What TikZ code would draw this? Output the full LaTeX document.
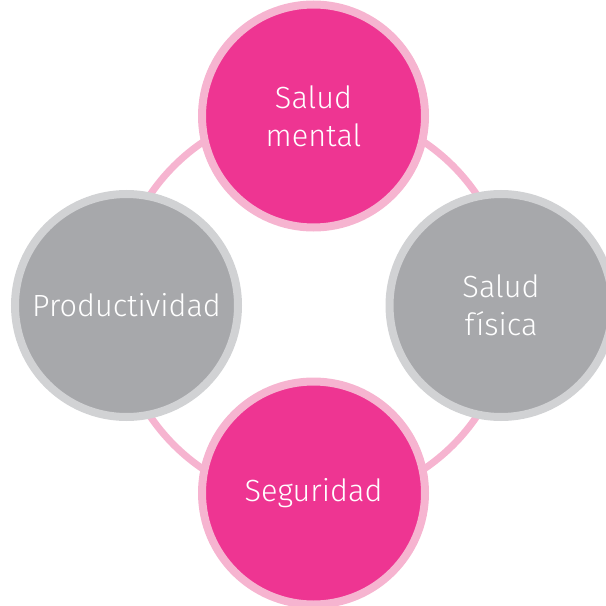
\documentclass[tikz,border=0pt]{standalone}
\usepackage{fontspec}
\setmainfont{Fira Sans Light}
\usepackage{tikz}
\usepackage{xcolor}
\usetikzlibrary{positioning}

\definecolor{rosa}{HTML}{EE3592}
\definecolor{rosaclaro}{HTML}{F6B4D0}
\definecolor{gris}{HTML}{A7A8AB}
\definecolor{grisclaro}{HTML}{D1D2D4}

\begin{document}
\begin{tikzpicture}[
  x=0.75pt, y=-0.75pt,
  font=\fontsize{23pt}{28.5pt}\selectfont,
  core/.style={
    circle, align=center, inner sep=0pt, minimum size=167.25pt,
    line width=6pt, draw=rosaclaro, fill=rosa, text=white
  },
  aside/.style={
    circle, align=center, inner sep=0pt, minimum size=167.25pt,
    line width=6pt, draw=grisclaro, fill=gris, text=white
  },
  link/.style={line width=5.25pt, rosaclaro}
]
\useasboundingbox (0,0) rectangle (606,606);
\coordinate (hub) at (313.5,305.5);
\draw[link] (hub) circle[radius=148pt];

\node[core] (mental) at (313.5,116) {Salud\\mental};
\node[aside] (fisica) at (501,305.5) {Salud\\física};
\node[core] (seguridad) at (313.5,493) {Seguridad};
\node[aside] (productividad) at (126.5,305.5) {Productividad};
\end{tikzpicture}
\end{document}
